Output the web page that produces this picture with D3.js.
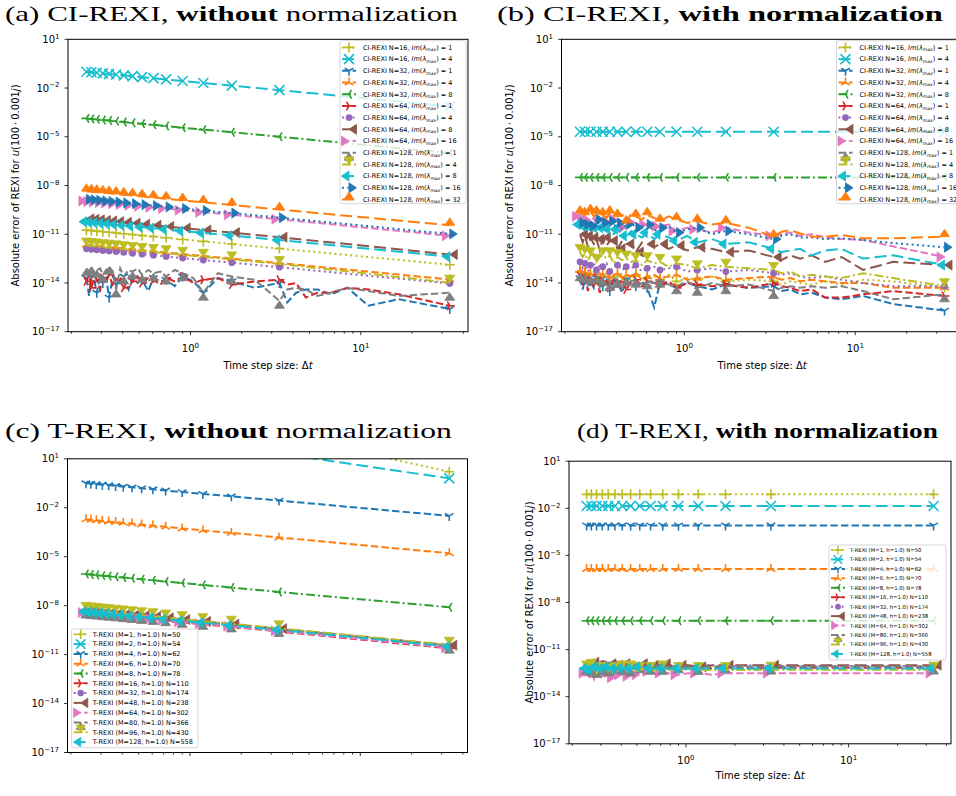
<!DOCTYPE html>
<html>
<head>
<meta charset="utf-8">
<script src="https://cdn.jsdelivr.net/npm/d3@7"></script>
<style>
  body { margin: 0; background: #fff; }
  svg { display: block; }
</style>
</head>
<body>
<div id="chart"></div>
<script>
// time step sizes: the marker positions and the denser grid used by the noisy runs
const dtMark = [0.245, 0.262, 0.282, 0.306, 0.333, 0.366, 0.406, 0.457, 0.52, 0.606, 0.72, 0.90, 1.19, 1.75, 3.33, 33.3];
const dtFine = [0.245, 0.254, 0.262, 0.273, 0.282, 0.295, 0.306, 0.32, 0.333, 0.351, 0.366, 0.387, 0.406, 0.433, 0.457, 0.49,
  0.52, 0.565, 0.606, 0.666, 0.72, 0.81, 0.90, 1.04, 1.19, 1.45, 1.75, 2.38, 3.33, 3.70, 4.17, 4.76, 5.56, 6.67, 8.33, 11.1, 16.7, 33.3];

// legend labels
const ciN = [16, 16, 32, 32, 32, 64, 64, 64, 64, 128, 128, 128, 128, 128];
const ciIm = [1, 4, 1, 4, 8, 1, 4, 8, 16, 1, 4, 8, 16, 32];
const tM = [1, 2, 4, 6, 8, 16, 32, 48, 64, 80, 96, 128];
const tN = [50, 54, 62, 70, 78, 110, 174, 238, 302, 366, 430, 558];

// axis ticks
const xDomain = [0.191, 42.6];
const xMajor = [1, 10];
const xMinor = [0.2, 0.3, 0.4, 0.5, 0.6, 0.7, 0.8, 0.9, 2, 3, 4, 5, 6, 7, 8, 9, 20, 30, 40];
const yExp = [1, -2, -5, -8, -11, -14, -17];

// log10 of the absolute error, one array per run (16 values -> dtMark, 38 values -> dtFine)
const errA = [
  [-10.75,-10.78,-10.81,-10.85,-10.88,-10.92,-10.97,-11.02,-11.08,-11.14,-11.22,-11.32,-11.44,-11.60,-11.88,-12.88],
  [-1.00,-1.03,-1.06,-1.10,-1.13,-1.17,-1.22,-1.27,-1.33,-1.39,-1.47,-1.57,-1.69,-1.85,-2.13,-3.13],
  [-13.7,-14.8,-13.6,-13.9,-14.6,-13.5,-14.0,-13.7,-14.9,-13.6,-14.1,-13.8,-13.6,-14.4,-13.7,-14.0,-13.8,-14.5,-13.7,-13.9,-13.8,-14.2,-13.6,-13.9,-14.6,-13.7,-13.9,-14.3,
   -14.0,-15.2,-14.6,-14.4,-14.4,-14.7,-14.3,-15.4,-15.0,-15.6],
  [-11.65,-11.68,-11.71,-11.75,-11.78,-11.82,-11.87,-11.92,-11.98,-12.04,-12.12,-12.22,-12.34,-12.50,-12.78,-13.78],
  [-3.87,-3.90,-3.93,-3.97,-4.00,-4.04,-4.09,-4.14,-4.20,-4.26,-4.34,-4.44,-4.56,-4.72,-5.00,-6.00],
  [-13.9,-13.5,-14.3,-13.6,-13.8,-14.4,-13.7,-13.9,-13.5,-14.2,-13.8,-13.6,-14.3,-13.7,-13.9,-13.6,-14.0,-13.7,-13.8,-14.1,-13.7,-13.9,-13.6,-14.0,-13.8,-13.7,-14.1,-13.9,
   -13.8,-14.1,-14.0,-14.9,-14.6,-14.6,-14.3,-14.4,-14.7,-15.4],
  [-11.90,-11.93,-11.96,-12.00,-12.03,-12.07,-12.12,-12.17,-12.23,-12.29,-12.37,-12.47,-12.59,-12.75,-13.03,-14.03],
  [-10.05,-10.08,-10.11,-10.15,-10.18,-10.22,-10.27,-10.32,-10.38,-10.44,-10.52,-10.62,-10.74,-10.90,-11.18,-12.25],
  [-8.95,-8.98,-9.01,-9.05,-9.08,-9.12,-9.17,-9.22,-9.28,-9.34,-9.42,-9.52,-9.64,-9.80,-10.08,-11.10],
  [-13.1,-13.3,-13.0,-13.4,-13.2,-13.1,-13.5,-13.2,-13.0,-13.3,-14.4,-13.1,-13.6,-13.2,-13.3,-13.1,-13.5,-13.2,-13.4,-13.3,-13.6,-13.2,-13.4,-13.7,-14.6,-13.4,-13.6,-13.8,
   -15.1,-14.4,-14.3,-14.4,-14.8,-14.6,-14.3,-14.5,-14.8,-14.6],
  [-11.70,-11.73,-11.76,-11.80,-11.83,-11.87,-11.92,-11.97,-12.03,-12.09,-12.17,-12.27,-12.39,-12.55,-12.83,-13.98],
  [-10.23,-10.26,-10.29,-10.33,-10.36,-10.40,-10.45,-10.50,-10.56,-10.62,-10.70,-10.80,-10.92,-11.08,-11.36,-12.38],
  [-8.85,-8.88,-8.91,-8.95,-8.98,-9.02,-9.07,-9.12,-9.18,-9.24,-9.32,-9.42,-9.54,-9.70,-9.98,-10.98],
  [-8.35,-8.38,-8.41,-8.45,-8.48,-8.52,-8.57,-8.62,-8.68,-8.74,-8.82,-8.92,-9.04,-9.20,-9.48,-10.45]
];

const errB = [
  [-13.3,-13.7,-13.4,-13.9,-13.5,-13.3,-13.8,-13.5,-13.6,-13.4,-13.9,-13.5,-13.6,-13.4,-13.8,-13.6,-13.5,-13.9,-13.7,-13.6,-13.8,-13.5,-13.9,-13.7,-13.8,-13.6,-13.9,-13.8,
   -13.9,-14.1,-13.9,-14.0,-14.1,-13.9,-14.1,-13.8,-13.9,-14.3],
  [-4.69,-4.69,-4.69,-4.69,-4.69,-4.69,-4.69,-4.69,-4.69,-4.69,-4.69,-4.69,-4.69,-4.69,-4.69,-4.69],
  [-13.7,-14.4,-13.8,-14.1,-13.9,-14.3,-13.7,-14.0,-14.2,-13.8,-14.5,-13.9,-14.0,-14.6,-13.8,-14.1,-14.2,-13.9,-14.3,-15.5,-14.0,-14.1,-14.3,-14.0,-14.2,-14.4,-14.1,-14.3,
   -14.2,-14.5,-14.4,-14.7,-14.6,-14.9,-15.0,-14.8,-15.3,-15.7],
  [-13.2,-13.6,-13.3,-13.8,-13.4,-13.3,-13.7,-13.4,-13.5,-13.3,-13.8,-13.5,-13.4,-13.7,-13.5,-13.6,-13.4,-13.8,-13.6,-13.5,-13.7,-13.6,-13.5,-13.8,-13.7,-13.6,-13.8,-13.7,
   -13.6,-13.8,-13.7,-13.9,-13.8,-13.9,-14.0,-14.0,-14.3,-14.3],
  [-7.50,-7.50,-7.50,-7.50,-7.50,-7.50,-7.50,-7.50,-7.50,-7.50,-7.50,-7.50,-7.50,-7.50,-7.50,-7.50],
  [-13.6,-14.0,-13.7,-14.5,-13.8,-14.2,-13.7,-14.6,-13.9,-13.8,-14.3,-13.7,-14.0,-13.8,-14.4,-13.9,-13.8,-14.2,-13.9,-14.0,-14.1,-13.9,-14.3,-14.0,-14.1,-14.2,-14.1,-14.3,
   -14.0,-14.2,-14.3,-14.5,-14.4,-14.9,-14.9,-14.7,-14.5,-14.8],
  [-12.7,-13.1,-12.8,-13.3,-12.9,-12.8,-13.2,-12.9,-13.0,-12.8,-13.3,-13.0,-12.9,-13.2,-13.0,-13.1,-12.9,-13.3,-13.1,-13.0,-13.2,-13.1,-13.0,-13.3,-13.2,-13.1,-13.3,-13.2,
   -13.4,-13.5,-13.4,-13.6,-13.7,-13.6,-13.8,-14.0,-14.2,-14.2],
  [-11.0,-11.5,-11.1,-11.8,-11.2,-11.6,-11.3,-12.0,-11.2,-11.7,-11.4,-11.3,-11.9,-11.4,-11.6,-11.5,-12.1,-11.5,-11.6,-11.8,-11.6,-11.9,-11.7,-12.0,-11.8,-11.9,-12.1,-12.0,
   -12.4,-12.6,-12.3,-12.5,-12.3,-12.7,-12.4,-13.2,-12.7,-12.9],
  [-9.9,-10.2,-10.0,-10.3,-10.1,-10.0,-10.4,-10.2,-10.1,-10.5,-10.2,-10.3,-10.1,-10.4,-10.6,-10.2,-10.3,-10.5,-10.4,-10.7,-10.5,-10.4,-10.8,-10.6,-10.7,-10.9,-10.6,-10.9,
   -11.1,-11.0,-10.9,-11.1,-11.0,-11.2,-11.3,-11.35,-11.75,-12.4],
  [-13.4,-13.8,-13.5,-14.1,-13.6,-13.9,-13.5,-14.3,-13.7,-13.6,-14.0,-13.7,-13.8,-14.4,-13.7,-13.9,-13.8,-14.1,-13.9,-14.0,-13.8,-14.1,-14.2,-13.9,-14.3,-14.0,-14.2,-14.1,
   -14.5,-14.3,-14.2,-14.3,-14.2,-14.3,-14.2,-14.5,-15.0,-14.7],
  [-12.1,-12.4,-12.2,-12.6,-12.3,-12.2,-12.7,-12.4,-12.3,-12.5,-12.3,-12.8,-12.4,-12.6,-12.5,-12.7,-12.6,-12.9,-12.6,-12.8,-12.7,-13.0,-12.8,-12.9,-13.1,-12.9,-13.0,-13.1,
   -13.2,-13.4,-13.3,-13.6,-13.5,-13.6,-13.7,-13.4,-13.7,-14.2],
  [-10.4,-10.6,-10.5,-10.8,-10.5,-10.7,-10.6,-10.9,-10.6,-10.8,-10.7,-11.0,-10.7,-10.9,-11.1,-10.8,-11.0,-11.2,-10.9,-11.3,-11.0,-11.2,-11.4,-11.1,-11.5,-11.3,-11.6,-11.5,
   -11.9,-12.1,-12.0,-11.9,-12.3,-12.0,-11.9,-12.5,-12.3,-12.9],
  [-10.3,-10.1,-10.4,-10.2,-10.5,-10.2,-10.1,-10.6,-10.3,-10.4,-10.2,-10.5,-10.3,-10.7,-10.4,-10.3,-10.6,-10.5,-10.4,-10.8,-10.6,-10.5,-10.9,-10.7,-10.6,-11.0,-10.8,-11.0,
   -11.3,-11.1,-11.0,-11.2,-11.2,-11.3,-11.25,-11.35,-11.55,-11.8],
  [-9.7,-9.5,-9.8,-9.6,-9.6,-9.9,-9.7,-9.6,-9.8,-10.0,-9.7,-9.6,-9.9,-9.8,-10.3,-9.7,-9.9,-10.1,-9.8,-10.0,-10.2,-9.9,-10.1,-10.3,-10.2,-10.4,-10.3,-10.6,
   -11.15,-10.85,-10.75,-10.95,-11.15,-11.15,-11.05,-11.25,-11.25,-11.15]
];

const errC = [
  [3.63,3.60,3.57,3.53,3.50,3.46,3.41,3.36,3.30,3.24,3.16,3.06,2.94,2.78,2.50,0.21],
  [2.46,2.43,2.40,2.36,2.33,2.29,2.24,2.19,2.13,2.07,1.99,1.89,1.77,1.61,1.33,-0.20],
  [-0.50,-0.53,-0.56,-0.59,-0.62,-0.66,-0.71,-0.75,-0.81,-0.87,-0.94,-1.04,-1.15,-1.30,-1.56,-2.50],
  [-2.71,-2.74,-2.77,-2.81,-2.84,-2.88,-2.93,-2.97,-3.03,-3.09,-3.17,-3.27,-3.39,-3.54,-3.82,-4.79],
  [-6.06,-6.09,-6.12,-6.16,-6.19,-6.23,-6.27,-6.32,-6.38,-6.44,-6.52,-6.61,-6.73,-6.89,-7.16,-8.10],
  [-8.45,-8.48,-8.51,-8.55,-8.58,-8.62,-8.67,-8.72,-8.78,-8.84,-8.92,-9.02,-9.14,-9.30,-9.58,-10.62],
  [-8.32,-8.35,-8.38,-8.42,-8.45,-8.49,-8.54,-8.59,-8.65,-8.71,-8.79,-8.89,-9.01,-9.17,-9.45,-10.48],
  [-8.28,-8.31,-8.34,-8.38,-8.41,-8.45,-8.50,-8.55,-8.61,-8.67,-8.75,-8.85,-8.97,-9.13,-9.41,-10.42],
  [-8.42,-8.45,-8.48,-8.52,-8.55,-8.59,-8.64,-8.69,-8.75,-8.81,-8.89,-8.99,-9.11,-9.27,-9.55,-10.58],
  [-8.30,-8.33,-8.36,-8.40,-8.43,-8.47,-8.52,-8.57,-8.63,-8.69,-8.77,-8.87,-8.99,-9.15,-9.43,-10.45],
  [-8.26,-8.29,-8.32,-8.36,-8.39,-8.43,-8.48,-8.53,-8.59,-8.65,-8.73,-8.83,-8.95,-9.11,-9.39,-10.40],
  [-8.36,-8.39,-8.42,-8.46,-8.49,-8.53,-8.58,-8.63,-8.69,-8.75,-8.83,-8.93,-9.05,-9.21,-9.49,-10.50]
];

const errD = [
  [-1.11,-1.11,-1.11,-1.11,-1.11,-1.11,-1.11,-1.11,-1.11,-1.11,-1.11,-1.11,-1.11,-1.11,-1.11,-1.11],
  [-1.85,-1.85,-1.85,-1.85,-1.85,-1.85,-1.85,-1.85,-1.85,-1.85,-1.85,-1.85,-1.85,-1.85,-1.85,-1.85],
  [-3.09,-3.09,-3.09,-3.09,-3.09,-3.09,-3.09,-3.09,-3.09,-3.09,-3.09,-3.09,-3.09,-3.09,-3.09,-3.09],
  [-5.87,-5.87,-5.87,-5.87,-5.87,-5.87,-5.87,-5.87,-5.87,-5.87,-5.87,-5.87,-5.87,-5.87,-5.87,-5.87],
  [-9.16,-9.16,-9.16,-9.16,-9.16,-9.16,-9.16,-9.16,-9.16,-9.16,-9.16,-9.16,-9.16,-9.16,-9.16,-9.16],
  [-12.3,-12.0,-12.4,-12.1,-12.2,-12.5,-12.1,-12.3,-12.0,-12.2,-12.4,-12.1,-12.2,-12.3,-12.1,-12.2,-12.3,-12.1,-12.2,-12.2,-12.1,-12.3,-12.2,-12.1,-12.2,-12.2,-12.1,-12.2,
   -12.15,-12.15,-12.15,-12.15,-12.15,-12.15,-12.15,-12.15,-12.15,-12.15],
  [-12.0,-12.2,-11.9,-12.1,-12.0,-12.2,-11.9,-12.1,-12.0,-12.1,-11.9,-12.0,-12.1,-12.0,-12.1,-11.9,-12.0,-12.1,-12.0,-12.0,-12.1,-12.0,-12.0,-12.1,-12.0,-12.0,-12.1,-12.0,
   -12.05,-12.05,-12.05,-12.05,-12.05,-12.05,-12.05,-12.05,-12.05,-12.05],
  [-11.9,-12.1,-11.8,-12.2,-12.0,-11.9,-12.1,-12.0,-11.9,-12.2,-12.0,-12.1,-11.9,-12.0,-12.1,-12.0,-11.9,-12.1,-12.0,-12.0,-11.9,-12.1,-12.0,-12.0,-12.1,-12.0,-12.0,-12.0,
   -12.0,-12.0,-12.0,-12.0,-12.0,-12.0,-12.0,-12.0,-12.0,-12.0],
  [-12.5,-12.7,-12.4,-12.9,-12.5,-12.6,-12.4,-12.7,-12.5,-12.6,-12.8,-12.5,-12.6,-12.4,-12.7,-12.5,-12.6,-12.5,-12.4,-12.6,-12.5,-12.5,-12.6,-12.5,-12.5,-12.6,-12.5,-12.5,
   -12.5,-12.5,-12.5,-12.5,-12.5,-12.5,-12.5,-12.5,-12.5,-12.5],
  [-12.1,-11.9,-12.2,-12.0,-12.3,-12.0,-12.1,-11.9,-12.2,-12.1,-12.0,-12.2,-12.1,-12.0,-12.2,-12.1,-12.0,-12.1,-12.1,-12.0,-12.1,-12.1,-12.0,-12.1,-12.1,-12.1,-12.0,-12.1,
   -12.08,-12.08,-12.08,-12.08,-12.08,-12.08,-12.08,-12.08,-12.08,-12.08],
  [-12.2,-12.4,-12.1,-12.3,-12.5,-12.2,-12.3,-12.1,-12.4,-12.2,-12.3,-12.4,-12.2,-12.3,-12.2,-12.4,-12.3,-12.2,-12.3,-12.3,-12.2,-12.3,-12.3,-12.2,-12.3,-12.3,-12.3,-12.3,
   -12.28,-12.28,-12.28,-12.28,-12.28,-12.28,-12.28,-12.28,-12.28,-12.28],
  [-12.2,-12.1,-12.3,-12.2,-12.1,-12.3,-12.2,-12.2,-12.1,-12.3,-12.2,-12.1,-12.2,-12.3,-12.2,-12.2,-12.1,-12.2,-12.2,-12.2,-12.2,-12.2,-12.2,-12.2,-12.2,-12.2,-12.2,-12.2,
   -12.2,-12.2,-12.2,-12.2,-12.2,-12.2,-12.2,-12.2,-12.2,-12.2]
];

// styles: colours start at olive in the tab10 cycle
const tab10 = ["#1f77b4", "#ff7f0e", "#2ca02c", "#d62728", "#9467bd", "#8c564b", "#e377c2", "#7f7f7f", "#bcbd22", "#17becf"];
const colorOf = i => tab10[(i + 8) % 10];
const markerKinds = ["plus", "cross", "triDown", "triUp", "triLeft", "triRight", "circle",
  "caretLeft", "caretRight", "caretUp", "caretDown", "caretLeftBase", "caretRightBase", "caretUpBase"];
const dashKinds = ["dot", "long", "dash", "dash", "dashdot", "dash", "dot", "long", "dash", "dash", "dashdot", "long", "dot", "long"];
const dashArray = { dot: "2,3.3", dash: "7.4,3.2", long: "12,5", dashdot: "9,3,2,3" };

const W = 956, H = 796;
const svg = d3.select("#chart").append("svg")
  .attr("width", W).attr("height", H)
  .style("font-family", "'DejaVu Sans', sans-serif");

// marker outline, centred on the data point (screen y goes down)
function markerPath(kind) {
  const s = 5, c = 0.866 * s, h = 0.5 * s, b = 1.5 * s;
  switch (kind) {
    case "plus": return `M${-s},0H${s}M0,${-s}V${s}`;
    case "cross": return `M${-s},${-s}L${s},${s}M${-s},${s}L${s},${-s}`;
    case "triDown": return `M0,0V${s}M0,0L${-c},${-h}M0,0L${c},${-h}`;
    case "triUp": return `M0,0V${-s}M0,0L${-c},${h}M0,0L${c},${h}`;
    case "triLeft": return `M0,0H${-s}M0,0L${h},${-c}M0,0L${h},${c}`;
    case "triRight": return `M0,0H${s}M0,0L${-h},${-c}M0,0L${-h},${c}`;
    case "caretDown": return `M0,0L${-s},${-b}L${s},${-b}Z`;
    case "caretUp": return `M0,0L${-s},${b}L${s},${b}Z`;
    case "caretLeft": return `M0,0L${b},${-s}L${b},${s}Z`;
    case "caretRight": return `M0,0L${-b},${-s}L${-b},${s}Z`;
    case "caretLeftBase": return `M0,${-s}L0,${s}L${-b},0Z`;
    case "caretRightBase": return `M0,${-s}L0,${s}L${b},0Z`;
    case "caretUpBase": return `M${-s},0L${s},0L0,${-b}Z`;
  }
  return "";
}
const filledKinds = new Set(["caretDown", "caretUp", "caretLeft", "caretRight", "caretLeftBase", "caretRightBase", "caretUpBase"]);

function drawMarker(g, kind, col, px, py, sc) {
  if (kind === "circle") {
    g.append("circle").attr("cx", px).attr("cy", py).attr("r", 3.4 * sc).attr("fill", col);
    return;
  }
  const filled = filledKinds.has(kind);
  g.append("path")
    .attr("d", markerPath(kind))
    .attr("transform", `translate(${px},${py}) scale(${sc})`)
    .attr("fill", filled ? col : "none")
    .attr("stroke", col)
    .attr("stroke-width", filled ? 0.8 : 1.6)
    .attr("stroke-linejoin", "miter");
}

// "10" with a superscript exponent
function powerLabel(g, px, py, exp, anchor) {
  const t = g.append("text").attr("x", px).attr("y", py)
    .attr("text-anchor", anchor).attr("font-size", 10).attr("fill", "#000");
  t.append("tspan").text("10");
  t.append("tspan").attr("dy", -4.2).attr("font-size", 7).text(String(exp).replace("-", "\u2212"));
}

function ciLabel(t, i) {
  t.append("tspan").text(`CI-REXI N=${ciN[i]}, `);
  t.append("tspan").attr("font-style", "italic").text("Im");
  t.append("tspan").text("(");
  t.append("tspan").attr("font-style", "italic").text("\u03bb");
  t.append("tspan").attr("font-style", "italic").attr("font-size", "70%").attr("dy", 1.6).text("max");
  t.append("tspan").attr("dy", -1.6).text(`) = ${ciIm[i]}`);
}
function tLabel(t, i) {
  t.text(`T-REXI (M=${tM[i]}, h=1.0) N=${tN[i]}`);
}

const panels = [
  { key: "a", err: errA, label: ciLabel, x0: 68, x1: 468, y0: 39.3, y1: 331.7,
    title: [["(a) CI-REXI, ", false], ["without", true], [" normalization", false]],
    titleX: 5, titleW: 453, titleY: 21, titleSize: 22,
    ylabelX: 19, xlabels: true, xlabelY: 369,
    legend: { x: 340, y: 40.7, w: 126, h: 163, first: 6.7, row: 11.7, font: 6.5, sc: 1, textX: 23 } },
  { key: "b", err: errB, label: ciLabel, x0: 561.5, x1: 962.8, y0: 39.3, y1: 331.7,
    title: [["(b) CI-REXI, ", false], ["with normalization", true]],
    titleX: 497, titleW: 446, titleY: 21, titleSize: 22,
    ylabelX: 513, xlabels: true, xlabelY: 369,
    legend: { x: 836.5, y: 40.7, w: 126, h: 163, first: 6.7, row: 11.7, font: 6.5, sc: 1, textX: 23 } },
  { key: "c", err: errC, label: tLabel, x0: 67.5, x1: 467.5, y0: 458.8, y1: 752.5,
    title: [["(c) T-REXI, ", false], ["without", true], [" normalization", false]],
    titleX: 5, titleW: 447, titleY: 438, titleSize: 22,
    ylabelX: null, xlabels: false,
    legend: { x: 71.7, y: 629, w: 126.3, h: 118.7, first: 5.3, row: 9.8, font: 6.5, sc: 0.95, textX: 21 } },
  { key: "d", err: errD, label: tLabel, x0: 569, x1: 951, y0: 461.2, y1: 743.8,
    title: [["(d) T-REXI, ", false], ["with normalization", true]],
    titleX: 577, titleW: 361, titleY: 438, titleSize: 20,
    ylabelX: 533, xlabels: true, xlabelY: 779,
    legend: { x: 829, y: 545, w: 117, h: 115, first: 5, row: 9.45, font: 5.3, sc: 0.85, textX: 21 } }
];

panels.forEach(p => {
  const g = svg.append("g");
  const x = d3.scaleLog().domain(xDomain).range([p.x0, p.x1]);
  const y = d3.scaleLog().domain([1e-17, 1e1]).range([p.y1, p.y0]);

  const clipId = "clip-" + p.key;
  svg.append("clipPath").attr("id", clipId)
    .append("rect").attr("x", p.x0).attr("y", p.y0)
    .attr("width", p.x1 - p.x0).attr("height", p.y1 - p.y0);

  // series
  const plot = g.append("g").attr("clip-path", `url(#${clipId})`);
  p.err.forEach((vals, i) => {
    const xs = vals.length === dtMark.length ? dtMark : dtFine;
    const pts = vals.map((v, j) => [xs[j], Math.pow(10, v)]);
    const col = colorOf(i);
    const line = d3.line().x(d => x(d[0])).y(d => y(d[1]));
    plot.append("path")
      .attr("d", line(pts))
      .attr("fill", "none")
      .attr("stroke", col)
      .attr("stroke-width", 2)
      .attr("stroke-dasharray", dashArray[dashKinds[i]]);
    const mg = plot.append("g");
    pts.filter(d => dtMark.includes(d[0]))
      .forEach(d => drawMarker(mg, markerKinds[i], col, x(d[0]), y(d[1]), 1));
  });

  // ticks
  const ax = g.append("g").attr("stroke", "#000").attr("stroke-width", 0.8);
  xMajor.forEach(v => ax.append("line").attr("x1", x(v)).attr("x2", x(v)).attr("y1", p.y1).attr("y2", p.y1 + 3.5));
  xMinor.forEach(v => ax.append("line").attr("x1", x(v)).attr("x2", x(v)).attr("y1", p.y1).attr("y2", p.y1 + 2));
  yExp.forEach(e => ax.append("line").attr("x1", p.x0 - 3.5).attr("x2", p.x0).attr("y1", y(Math.pow(10, e))).attr("y2", y(Math.pow(10, e))));

  // frame
  g.append("rect").attr("x", p.x0).attr("y", p.y0)
    .attr("width", p.x1 - p.x0).attr("height", p.y1 - p.y0)
    .attr("fill", "none").attr("stroke", "#000").attr("stroke-width", 1);

  // tick labels
  yExp.forEach(e => powerLabel(g, p.x0 - 8.5, y(Math.pow(10, e)) + 3.6, e, "end"));
  if (p.xlabels) {
    xMajor.forEach(v => powerLabel(g, x(v), p.y1 + 20.5, Math.round(Math.log10(v)), "middle"));
    const xl = g.append("text").attr("x", (p.x0 + p.x1) / 2).attr("y", p.xlabelY)
      .attr("text-anchor", "middle").attr("font-size", 10);
    xl.append("tspan").text("Time step size: \u0394");
    xl.append("tspan").attr("font-style", "italic").text("t");
  }
  if (p.ylabelX !== null) {
    const cy = (p.y0 + p.y1) / 2;
    const yl = g.append("text")
      .attr("transform", `translate(${p.ylabelX},${cy}) rotate(-90)`)
      .attr("text-anchor", "middle").attr("font-size", 10);
    yl.append("tspan").text("Absolute error of REXI for ");
    yl.append("tspan").attr("font-style", "italic").text("u");
    yl.append("tspan").text("(100\u2009\u00b7\u20090.001");
    yl.append("tspan").attr("font-style", "italic").text("j");
    yl.append("tspan").text(")");
  }

  // legend
  const L = p.legend;
  const lg = g.append("g");
  lg.append("rect").attr("x", L.x).attr("y", L.y).attr("width", L.w).attr("height", L.h)
    .attr("rx", 2).attr("fill", "#fff").attr("fill-opacity", 0.8)
    .attr("stroke", "#ccc").attr("stroke-width", 0.8);
  p.err.forEach((vals, i) => {
    const ry = L.y + L.first + i * L.row;
    const col = colorOf(i);
    lg.append("line").attr("x1", L.x + 2).attr("x2", L.x + 16).attr("y1", ry).attr("y2", ry)
      .attr("stroke", col).attr("stroke-width", 2)
      .attr("stroke-dasharray", dashArray[dashKinds[i]]);
    drawMarker(lg, markerKinds[i], col, L.x + 9, ry, L.sc);
    const t = lg.append("text").attr("x", L.x + L.textX).attr("y", ry + L.font * 0.36)
      .attr("font-size", L.font).attr("fill", "#000");
    p.label(t, i);
  });

  // title, stretched to the measured width
  const tt = svg.append("text").attr("x", 0).attr("y", 0)
    .attr("font-family", "'Liberation Serif', serif").attr("font-size", p.titleSize).attr("fill", "#000");
  p.title.forEach(([s, bold]) => tt.append("tspan").attr("font-weight", bold ? "bold" : "normal").text(s));
  const tw = tt.node().getBBox().width;
  tt.attr("transform", `translate(${p.titleX},${p.titleY}) scale(${p.titleW / tw},1)`);
});
</script>
</body>
</html>
